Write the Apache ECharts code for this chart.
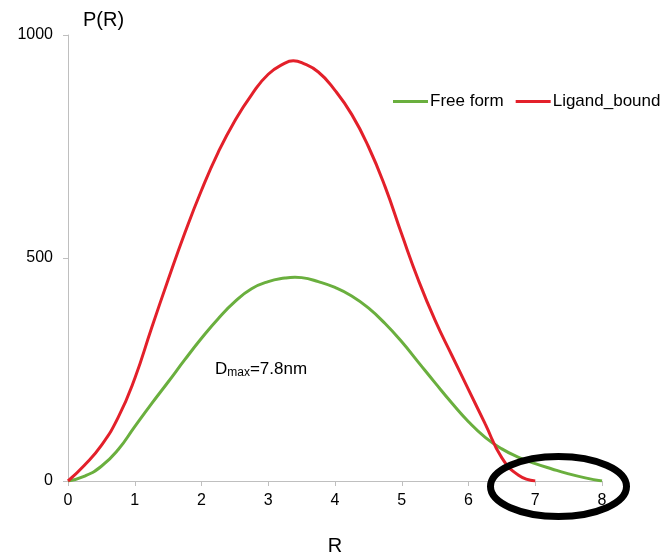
<!DOCTYPE html>
<html><head><meta charset="utf-8">
<script src="https://cdn.jsdelivr.net/npm/echarts@6/dist/echarts.min.js"></script>
<style>html,body{margin:0;padding:0;background:#fff}#c{width:664px;height:554px}</style>
</head><body><div id="c"></div>
<script>
// R values (nm) and P(R) values
const freeR = [0,0.25,0.5,0.75,1.0,1.25,1.5,1.75,2.0,2.25,2.5,2.75,3.0,3.25,3.4,3.5,3.75,4.0,4.25,4.5,4.75,5.0,5.25,5.5,5.75,6.0,6.25,6.5,6.75,7.0,7.25,7.5,7.75,8.0];
const freeP = [0,11,33,70,122,173,222,272,320,364,402,431,447,455,457,456,447,434,415,388,353,312,266,220,175,133,98,72,53,39,27,16,7,0];
const ligR = [0,0.25,0.5,0.75,1.0,1.25,1.5,1.75,2.0,2.25,2.5,2.75,3.0,3.25,3.375,3.5,3.75,4.0,4.25,4.5,4.75,5.0,5.25,5.5,5.75,6.0,6.25,6.5,6.75,7.0];
const ligP = [0,36,80,142,230,342,451,556,652,737,808,866,912,937,942,938,917,876,822,750,660,553,450,360,282,205,128,52,13,0];
const seriesNames = ['Free form','Ligand_bound'];

const FONT = "'Liberation Sans', Arial, sans-serif";
const chart = echarts.init(document.getElementById('c'), null, {renderer:'canvas'});
const zip = (xs, ys) => xs.map((x,i)=>[x, ys[i]]);
chart.setOption({
  animation:false,
  backgroundColor:'#fff',
  grid:{left:68, right:62, top:35, bottom:73, containLabel:false, outerBoundsMode:'none'},
  legend:{
    data:seriesNames, left:393, top:93, width:300, orient:'horizontal', padding:0,
    icon:'rect', itemWidth:35, itemHeight:3, itemGap:12,
    textStyle:{fontSize:17, color:'#000', fontFamily:FONT, padding:[0,0,0,-3]}
  },
  xAxis:{
    type:'value', min:0, max:8, interval:1,
    name:'R', nameLocation:'middle', nameGap:55,
    nameTextStyle:{fontSize:20, color:'#000', fontFamily:FONT},
    axisLine:{lineStyle:{color:'#bfbfbf', width:1}},
    axisTick:{show:true, length:5, lineStyle:{color:'#bfbfbf'}},
    axisLabel:{fontSize:16, color:'#000', fontFamily:FONT, margin:12},
    splitLine:{show:false}
  },
  yAxis:{
    type:'value', min:0, max:1000, interval:500,
    name:'P(R)', nameLocation:'end', nameGap:5,
    nameTextStyle:{fontSize:20, color:'#000', fontFamily:FONT, align:'left', padding:[0,0,0,15]},
    axisLine:{show:true, lineStyle:{color:'#bfbfbf', width:1}},
    axisTick:{show:true, length:5, lineStyle:{color:'#bfbfbf'}},
    axisLabel:{fontSize:16, color:'#000', fontFamily:FONT, margin:15, formatter:(v)=>String(v)},
    splitLine:{show:false}
  },
  series:[
    {name:seriesNames[0], type:'line', data:zip(freeR, freeP), smooth:0.5, showSymbol:false,
     itemStyle:{color:'#6AAF3E'}, lineStyle:{color:'#6AAF3E', width:3}, z:2},
    {name:seriesNames[1], type:'line', data:zip(ligR, ligP), smooth:0.5, showSymbol:false,
     itemStyle:{color:'#E3202A'}, lineStyle:{color:'#E3202A', width:3}, z:3}
  ],
  graphic:[
    {type:'text', left:215, top:361, style:{
      rich:{D:{fontSize:17, fontFamily:FONT, fill:'#000'}, s:{fontSize:12, fontFamily:FONT, fill:'#000', verticalAlign:'bottom', padding:[6,0,0,0]}},
      text:'{D|D}{s|max}{D|=7.8nm}'
    }},
    {type:'ellipse', shape:{cx:558.5, cy:486.5, rx:68, ry:30}, style:{fill:'none', stroke:'#000', lineWidth:7}, z:100}
  ]
});
</script></body></html>
